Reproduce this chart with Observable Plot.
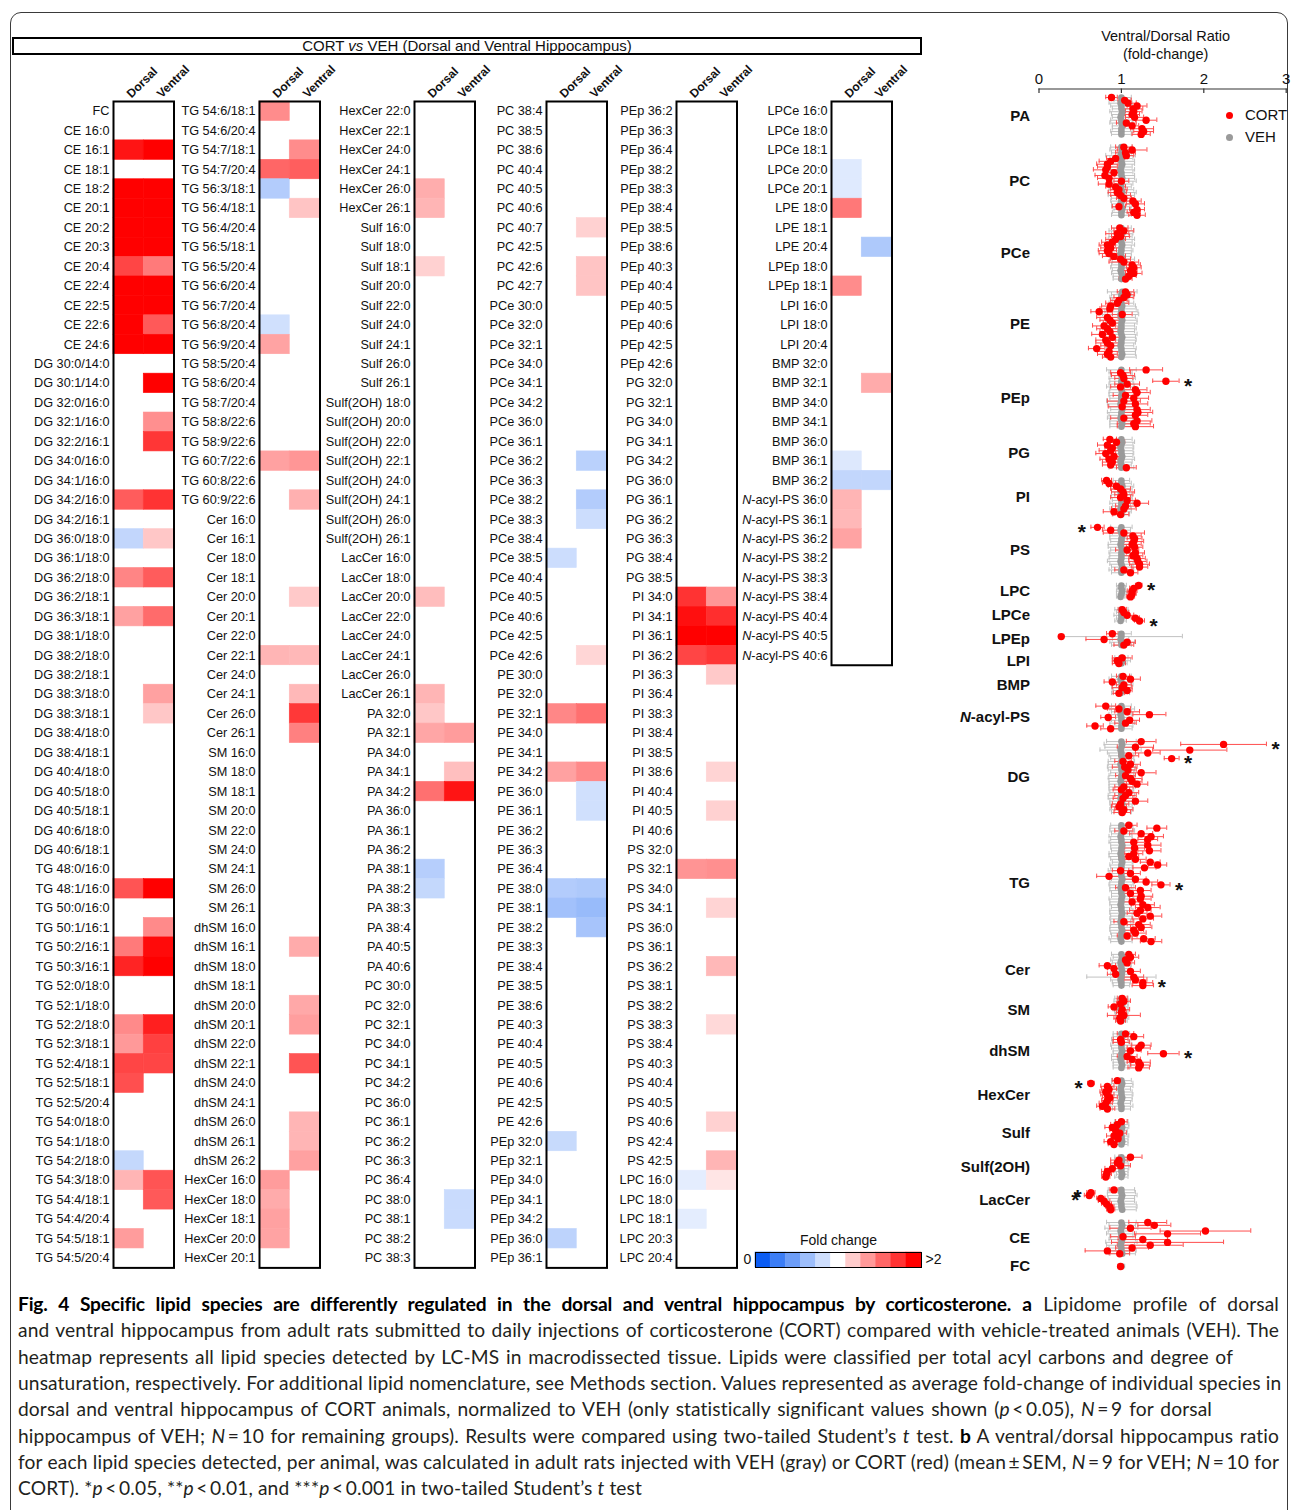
<!DOCTYPE html>
<html><head><meta charset="utf-8">
<script src="https://cdn.jsdelivr.net/npm/d3@7"></script>
<script src="https://cdn.jsdelivr.net/npm/@observablehq/plot@0.6"></script>
<style>
html,body{margin:0;padding:0;background:#fff;}
#root{position:relative;width:1292px;height:1510px;overflow:hidden;font-family:"Liberation Sans",Arial,sans-serif;color:#111;}
#frame{position:absolute;left:10px;top:12px;width:1278px;height:1560px;border:1.5px solid #3a3a3a;border-radius:11px 11px 0 0;box-sizing:border-box;}
#titlebox{position:absolute;left:12px;top:37px;width:910px;height:18px;border:2px solid #000;box-sizing:border-box;font-size:15px;line-height:14px;text-align:center;}
.cap{position:absolute;left:18px;font-family:Lato,"Noto Sans",sans-serif;font-size:19.2px;letter-spacing:0.12px;line-height:26.3px;white-space:nowrap;color:#231f20;}
.cap.j{text-align:justify;text-align-last:justify;}
.cap b{color:#000;letter-spacing:-0.2px;}
.leg{position:absolute;font-size:15px;line-height:18px;}
.leg span.d{display:inline-block;width:7px;height:7px;border-radius:50%;margin-right:12px;vertical-align:middle;position:relative;top:-1px;}
</style></head>
<body><div id="root"><div id="frame"></div><div id="titlebox">CORT <i>vs</i> VEH (Dorsal and Ventral Hippocampus)</div></div>
<script>
// ---------------- DATA: heatmap species (per class, in heatmap order) ----------------
const FC = [""];
const CE = "16:0 16:1 18:1 18:2 20:1 20:2 20:3 20:4 22:4 22:5 22:6 24:6".split(" ");
const DG = "30:0/14:0 30:1/14:0 32:0/16:0 32:1/16:0 32:2/16:1 34:0/16:0 34:1/16:0 34:2/16:0 34:2/16:1 36:0/18:0 36:1/18:0 36:2/18:0 36:2/18:1 36:3/18:1 38:1/18:0 38:2/18:0 38:2/18:1 38:3/18:0 38:3/18:1 38:4/18:0 38:4/18:1 40:4/18:0 40:5/18:0 40:5/18:1 40:6/18:0 40:6/18:1".split(" ");
const TG = "48:0/16:0 48:1/16:0 50:0/16:0 50:1/16:1 50:2/16:1 50:3/16:1 52:0/18:0 52:1/18:0 52:2/18:0 52:3/18:1 52:4/18:1 52:5/18:1 52:5/20:4 54:0/18:0 54:1/18:0 54:2/18:0 54:3/18:0 54:4/18:1 54:4/20:4 54:5/18:1 54:5/20:4 54:6/18:1 54:6/20:4 54:7/18:1 54:7/20:4 56:3/18:1 56:4/18:1 56:4/20:4 56:5/18:1 56:5/20:4 56:6/20:4 56:7/20:4 56:8/20:4 56:9/20:4 58:5/20:4 58:6/20:4 58:7/20:4 58:8/22:6 58:9/22:6 60:7/22:6 60:8/22:6 60:9/22:6".split(" ");
const Cer = "16:0 16:1 18:0 18:1 20:0 20:1 22:0 22:1 24:0 24:1 26:0 26:1".split(" ");
const SM = "16:0 18:0 18:1 20:0 22:0 24:0 24:1 26:0 26:1".split(" ");
const dhSM = "16:0 16:1 18:0 18:1 20:0 20:1 22:0 22:1 24:0 24:1 26:0 26:1 26:2".split(" ");
const HexCer = "16:0 18:0 18:1 20:0 20:1 22:0 22:1 24:0 24:1 26:0 26:1".split(" ");
const Sulf = "16:0 18:0 18:1 20:0 22:0 24:0 24:1 26:0 26:1".split(" ");
const Sulf2OH = "18:0 20:0 22:0 22:1 24:0 24:1 26:0 26:1".split(" ");
const LacCer = "16:0 18:0 20:0 22:0 24:0 24:1 26:0 26:1".split(" ");
const PA = "32:0 32:1 34:0 34:1 34:2 36:0 36:1 36:2 38:1 38:2 38:3 38:4 40:5 40:6".split(" ");
const PC = "30:0 32:0 32:1 34:0 34:1 34:2 36:0 36:1 36:2 36:3 36:4 38:0 38:1 38:2 38:3 38:4 38:5 38:6 40:4 40:5 40:6 40:7 42:5 42:6 42:7".split(" ");
const PCe = "30:0 32:0 32:1 34:0 34:1 34:2 36:0 36:1 36:2 36:3 38:2 38:3 38:4 38:5 40:4 40:5 40:6 42:5 42:6".split(" ");
const PE = "30:0 32:0 32:1 34:0 34:1 34:2 36:0 36:1 36:2 36:3 36:4 38:0 38:1 38:2 38:3 38:4 38:5 38:6 40:3 40:4 40:5 40:6 42:5 42:6".split(" ");
const PEp = "32:0 32:1 34:0 34:1 34:2 36:0 36:1 36:2 36:3 36:4 38:2 38:3 38:4 38:5 38:6 40:3 40:4 40:5 40:6 42:5 42:6".split(" ");
const PG = "32:0 32:1 34:0 34:1 34:2 36:0 36:1 36:2 36:3 38:4 38:5".split(" ");
const PI = "34:0 34:1 36:1 36:2 36:3 36:4 38:3 38:4 38:5 38:6 40:4 40:5 40:6".split(" ");
const PS = "32:0 32:1 34:0 34:1 36:0 36:1 36:2 38:1 38:2 38:3 38:4 40:3 40:4 40:5 40:6 42:4 42:5".split(" ");
const LPC = "16:0 18:0 18:1 20:3 20:4".split(" ");
const LPCe = "16:0 18:0 18:1 20:0 20:1".split(" ");
const LPE = "18:0 18:1 20:4".split(" ");
const LPEp = "18:0 18:1".split(" ");
const LPI = "16:0 18:0 20:4".split(" ");
const BMP = "32:0 32:1 34:0 34:1 36:0 36:1 36:2".split(" ");
const NacylPS = "36:0 36:1 36:2 38:2 38:3 38:4 40:4 40:5 40:6".split(" ");
const heatClasses = [["FC",FC],["CE",CE],["DG",DG],["TG",TG],["Cer",Cer],["SM",SM],["dhSM",dhSM],["HexCer",HexCer],["Sulf",Sulf],["Sulf(2OH)",Sulf2OH],["LacCer",LacCer],["PA",PA],["PC",PC],["PCe",PCe],["PE",PE],["PEp",PEp],["PG",PG],["PI",PI],["PS",PS],["LPC",LPC],["LPCe",LPCe],["LPE",LPE],["LPEp",LPEp],["LPI",LPI],["BMP",BMP],["N-acyl-PS",NacylPS]];
const regions = ["Dorsal","Ventral"];

// significant fold changes (CORT / VEH), only these are coloured
const dorsalFC = [["CE 16:1",1.92],["CE 18:2",2.4],["CE 20:1",2.3],["CE 20:2",2.5],["CE 20:3",2.2],["CE 20:4",1.73],["CE 22:4",2.4],["CE 22:5",2.3],["CE 22:6",2.2],["CE 24:6",2.3],
["DG 34:2/16:0",1.64],["DG 36:0/18:0",0.75],["DG 36:2/18:0",1.48],["DG 36:3/18:1",1.37],
["TG 48:1/16:0",1.67],["TG 50:2/16:1",1.52],["TG 50:3/16:1",1.86],["TG 52:2/18:0",1.46],["TG 52:3/18:1",1.40],["TG 52:4/18:1",1.73],["TG 52:5/18:1",1.69],["TG 54:2/18:0",0.76],["TG 54:3/18:0",1.29],["TG 54:5/18:1",1.39],
["TG 54:6/18:1",1.45],["TG 54:7/20:4",1.60],["TG 56:3/18:1",0.69],["TG 56:8/20:4",0.81],["TG 56:9/20:4",1.36],["TG 60:7/22:6",1.37],["Cer 22:1",1.29],
["HexCer 16:0",1.39],["HexCer 18:0",1.33],["HexCer 18:1",1.37],["HexCer 20:0",1.36],["HexCer 26:0",1.32],["HexCer 26:1",1.29],["Sulf 18:1",1.18],["LacCer 20:0",1.26],["LacCer 26:1",1.29],
["PA 32:0",1.22],["PA 32:1",1.35],["PA 34:2",1.56],["PA 38:1",0.70],["PA 38:2",0.76],
["PCe 38:5",0.79],["PE 32:1",1.47],["PE 34:2",1.37],["PE 38:0",0.69],["PE 38:1",0.62],["PEp 32:0",0.77],["PEp 36:0",0.73],
["PI 34:0",1.80],["PI 34:1",1.94],["PI 36:1",2.1],["PI 36:2",1.73],["PS 32:1",1.42],["LPC 16:0",0.89],["LPC 18:1",0.89],
["LPCe 20:0",0.87],["LPCe 20:1",0.87],["LPE 18:0",1.53],["LPEp 18:1",1.45],["BMP 36:1",0.86],["BMP 36:2",0.75],["N-acyl-PS 36:0",1.29],["N-acyl-PS 36:1",1.28],["N-acyl-PS 36:2",1.36]];
const ventralFC = [["CE 16:1",2.2],["CE 18:2",2.3],["CE 20:1",2.4],["CE 20:2",2.2],["CE 20:3",2.3],["CE 20:4",1.52],["CE 22:4",2.5],["CE 22:5",2.2],["CE 22:6",1.65],["CE 24:6",2.3],
["DG 30:1/14:0",2.1],["DG 32:1/16:0",1.44],["DG 32:2/16:1",1.79],["DG 34:2/16:0",1.80],["DG 36:0/18:0",1.22],["DG 36:2/18:0",1.64],["DG 36:3/18:1",1.58],["DG 38:3/18:0",1.37],["DG 38:3/18:1",1.22],
["TG 48:1/16:0",2.1],["TG 50:1/16:1",1.46],["TG 50:2/16:1",1.96],["TG 50:3/16:1",2.05],["TG 52:2/18:0",1.88],["TG 52:3/18:1",1.75],["TG 52:4/18:1",1.73],["TG 54:3/18:0",1.67],["TG 54:4/18:1",1.65],
["TG 54:7/18:1",1.45],["TG 54:7/20:4",1.63],["TG 56:4/18:1",1.23],["TG 60:7/22:6",1.41],["TG 60:9/22:6",1.31],
["Cer 20:0",1.21],["Cer 22:1",1.28],["Cer 24:1",1.28],["Cer 26:0",1.78],["Cer 26:1",1.50],
["dhSM 16:1",1.33],["dhSM 20:0",1.34],["dhSM 20:1",1.38],["dhSM 22:1",1.67],["dhSM 26:0",1.29],["dhSM 26:1",1.29],["dhSM 26:2",1.37],
["PA 32:1",1.39],["PA 34:1",1.25],["PA 34:2",1.92],["PC 38:0",0.78],["PC 38:1",0.78],
["PC 40:7",1.18],["PC 42:6",1.23],["PC 42:7",1.23],["PCe 36:2",0.72],["PCe 38:2",0.69],["PCe 38:3",0.79],["PCe 42:6",1.16],
["PE 32:1",1.56],["PE 34:2",1.46],["PE 36:0",0.81],["PE 36:1",0.81],["PE 38:0",0.67],["PE 38:1",0.58],["PE 38:2",0.64],
["PI 34:0",1.41],["PI 34:1",1.82],["PI 36:1",2.05],["PI 36:2",1.79],["PI 36:3",1.21],["PI 38:6",1.17],["PI 40:5",1.18],
["PS 32:1",1.44],["PS 34:1",1.17],["PS 36:2",1.28],["PS 38:3",1.15],["PS 40:6",1.18],["PS 42:5",1.29],["LPC 16:0",1.10],
["LPE 20:4",0.67],["BMP 32:1",1.33],["BMP 36:2",0.75]];
const legendSteps = [0, 0.2, 0.4, 0.6, 0.8, 1, 1.2, 1.4, 1.6, 1.8, 2];

// ---------------- DATA: ventral/dorsal ratio (dot plot) ----------------
const dotGroups = ["PA","PC","PCe","PE","PEp","PG","PI","PS","LPC","LPCe","LPEp","LPI","BMP","N-acyl-PS","DG","TG","Cer","SM","dhSM","HexCer","Sulf","Sulf(2OH)","LacCer","CE","FC"];
const cortMeans = [
"0.88 1.04 1.08 1.19 1.14 1.15 1.13 1.16 1.30 1.06 1.13 1.25 1.27 1.24",
"1.03 1.13 1.05 1.06 0.93 0.87 0.83 0.83 0.81 0.91 0.80 0.85 1.00 0.85 0.93 0.97 0.95 0.99 1.03 1.14 1.17 0.97 1.19 1.15 1.19",
"0.98 1.03 0.95 0.99 0.93 0.89 0.83 0.87 0.83 0.85 0.91 0.99 1.03 1.13 1.15 1.11 1.15 1.09 1.05",
"1.05 1.07 1.03 0.97 0.95 0.87 0.86 0.73 1.01 0.83 0.86 0.89 0.79 0.83 0.86 0.77 0.89 0.81 0.83 0.87 0.70 0.85 0.83 0.87",
"1.30 0.99 1.02 1.03 1.54 1.07 0.99 1.17 1.19 1.05 1.15 1.03 1.17 1.01 1.19 1.20 1.17 1.03 1.19 1.15 1.17",
"0.86 0.94 0.83 0.89 0.87 0.81 0.91 0.85 0.89 0.87 1.06",
"0.82 0.85 0.94 0.99 1.02 1.03 0.99 1.07 1.19 1.05 1.03 0.91 0.99",
"0.71 0.87 1.03 1.14 1.16 1.15 1.13 1.16 1.07 1.17 1.14 1.19 1.20 1.22 1.22 1.03 1.11",
"1.21 1.15 1.13 1.13 1.11",
"1.01 1.03 1.07 1.17 1.22",
"0.89 0.27 0.79 1.07 1.03",
"1.01 0.95 0.97",
"1.02 1.11 0.89 1.03 1.01 1.07 0.97",
"0.81 0.97 1.07 1.34 0.84 1.10 1.05 0.68 0.87",
"1.24 2.24 1.17 1.83 1.32 1.09 1.61 1.02 1.11 1.04 1.08 1.24 1.05 1.11 1.13 1.19 1.03 1.00 1.09 1.05 1.02 1.17 0.99 0.97 1.03 1.01",
"1.09 1.43 1.03 1.24 1.36 1.32 1.15 1.32 1.16 1.34 1.15 1.09 1.17 1.35 1.44 1.28 0.99 1.11 0.85 1.17 1.30 1.48 1.05 1.23 1.11 1.24 1.23 1.13 1.26 1.32 1.23 1.19 1.35 1.26 1.03 1.21 1.24 1.15 1.17 1.07 1.27 1.36",
"1.09 1.11 1.05 1.07 0.83 0.91 1.11 0.93 1.15 1.17 1.26 1.26",
"1.01 1.03 0.99 0.91 1.01 1.00 1.03 0.98 0.99",
"1.05 1.15 0.99 1.00 1.24 1.21 1.11 1.51 1.07 1.13 1.21 1.23 1.21",
"0.95 0.63 0.83 0.85 0.81 0.83 0.86 0.83 0.81 0.77 0.83",
"1.00 0.95 0.89 0.93 0.98 0.91 0.96 0.87 0.91",
"1.11 0.97 0.95 0.99 0.89 0.83 0.82 0.81",
"0.91 0.63 0.61 0.75 0.79 0.82 0.86 0.87",
"1.32 1.40 1.11 2.02 1.56 1.02 1.26 1.56 1.35 1.13 0.83 0.98",
"0.99"];
const cortSems = [
"0.07 0.08 0.10 0.12 0.12 0.10 0.09 0.11 0.13 0.12 0.08 0.14 0.12 0.11",
"0.10 0.18 0.12 0.09 0.11 0.14 0.13 0.12 0.15 0.10 0.12 0.14 0.09 0.13 0.12 0.10 0.11 0.12 0.09 0.10 0.11 0.08 0.09 0.08 0.10",
"0.10 0.12 0.14 0.11 0.12 0.13 0.10 0.12 0.11 0.12 0.14 0.12 0.18 0.10 0.09 0.08 0.10 0.09 0.08",
"0.10 0.09 0.12 0.10 0.14 0.11 0.12 0.10 0.12 0.13 0.12 0.11 0.14 0.13 0.12 0.13 0.10 0.12 0.14 0.12 0.10 0.14 0.12 0.10",
"0.20 0.12 0.14 0.11 0.16 0.15 0.12 0.14 0.16 0.15 0.18 0.20 0.15 0.17 0.16 0.18 0.15 0.16 0.18 0.20 0.22",
"0.08 0.10 0.12 0.09 0.14 0.12 0.10 0.11 0.12 0.10 0.12",
"0.06 0.08 0.10 0.12 0.14 0.11 0.12 0.10 0.14 0.12 0.15 0.13 0.10",
"0.08 0.10 0.25 0.10 0.09 0.12 0.11 0.10 0.14 0.11 0.12 0.10 0.11 0.12 0.10 0.11 0.09",
"0.04 0.05 0.06 0.05 0.05",
"0.05 0.06 0.08 0.05 0.06",
"0.07 0.03 0.22 0.10 0.12",
"0.12 0.06 0.08",
"0.08 0.12 0.10 0.09 0.12 0.06 0.07",
"0.12 0.14 0.15 0.20 0.09 0.12 0.13 0.10 0.12",
"0.18 0.52 0.22 0.45 0.15 0.12 0.09 0.10 0.12 0.15 0.10 0.18 0.12 0.14 0.12 0.13 0.11 0.10 0.12 0.13 0.12 0.15 0.10 0.09 0.11 0.10",
"0.10 0.12 0.11 0.14 0.15 0.12 0.13 0.16 0.12 0.14 0.11 0.12 0.13 0.12 0.11 0.14 0.10 0.12 0.15 0.13 0.14 0.11 0.12 0.13 0.12 0.14 0.13 0.12 0.14 0.15 0.13 0.12 0.14 0.13 0.12 0.14 0.13 0.12 0.13 0.12 0.14 0.13",
"0.08 0.10 0.07 0.09 0.10 0.08 0.12 0.10 0.12 0.14 0.12 0.13",
"0.06 0.08 0.05 0.07 0.09 0.06 0.20 0.07 0.06",
"0.10 0.12 0.09 0.10 0.12 0.14 0.13 0.19 0.12 0.10 0.14 0.12 0.13",
"0.06 0.04 0.08 0.09 0.07 0.08 0.09 0.07 0.08 0.07 0.09",
"0.07 0.08 0.09 0.07 0.08 0.09 0.07 0.08 0.07",
"0.14 0.10 0.08 0.12 0.09 0.07 0.06 0.05",
"0.05 0.05 0.06 0.05 0.07 0.06 0.05 0.05",
"0.23 0.20 0.25 0.55 0.40 0.15 0.30 0.68 0.40 0.20 0.27 0.12",
"0.03"];
const vehMeans = [
"1.00 1.01 0.99 1.00 1.00 1.01 1.00 0.99 1.00 1.00 1.01 1.00 1.00 1.00",
"1.00 1.01 1.00 0.99 1.00 1.00 1.01 1.00 0.99 1.00 1.00 1.01 1.00 1.00 0.99 1.00 1.01 1.00 1.00 1.00 0.99 1.00 1.01 1.00 1.00",
"1.00 1.00 1.01 0.99 1.00 1.00 1.01 1.00 1.00 0.99 1.00 1.01 1.00 1.00 1.00 0.99 1.00 1.01 1.00",
"1.01 1.00 1.00 0.99 1.00 1.01 1.00 1.00 0.99 1.00 1.01 1.00 1.00 1.00 0.99 1.00 1.01 1.00 1.00 0.99 1.00 1.00 1.01 1.00",
"1.00 0.99 1.00 1.01 1.00 1.00 0.99 1.00 1.01 1.00 1.00 1.00 0.99 1.00 1.01 1.00 1.00 0.99 1.00 1.01 1.00",
"1.00 1.01 1.00 0.99 1.00 1.00 1.01 1.00 0.99 1.00 1.00",
"1.00 1.00 1.01 1.00 0.99 1.00 1.00 1.01 1.00 1.00 0.99 1.00 1.00",
"1.00 0.99 1.00 1.01 1.00 1.00 0.99 1.00 1.01 1.00 1.00 1.00 0.99 1.00 1.01 1.00 1.00",
"1.00 1.00 1.01 1.00 0.99",
"1.00 1.01 1.00 1.00 0.99",
"1.00 1.00 0.99 1.01 1.00",
"1.00 1.01 1.00",
"1.00 0.99 1.00 1.01 1.00 1.00 0.99",
"1.00 1.01 1.00 0.99 1.00 1.00 1.01 1.00 1.00",
"1.00 1.01 1.00 0.99 1.00 1.00 1.01 1.00 0.99 1.00 1.00 1.01 1.00 1.00 0.99 1.00 1.01 1.00 1.00 1.00 0.99 1.00 1.01 1.00 1.00 1.00",
"1.00 1.00 1.01 1.00 0.99 1.00 1.00 1.01 1.00 1.00 0.99 1.00 1.00 1.01 1.00 1.00 0.99 1.00 1.00 1.01 1.00 1.00 0.99 1.00 1.00 1.01 1.00 1.00 0.99 1.00 1.00 1.01 1.00 1.00 0.99 1.00 1.00 1.01 1.00 1.00 0.99 1.00",
"1.00 1.01 1.00 0.99 1.00 1.00 1.01 1.00 1.00 0.99 1.00 1.00",
"1.00 1.00 1.01 1.00 0.99 1.00 1.00 1.01 1.00",
"1.00 1.01 1.00 0.99 1.00 1.00 1.01 1.00 1.00 0.99 1.00 1.01 1.00",
"1.00 1.01 1.00 0.99 1.00 1.00 1.01 1.00 0.99 1.00 1.00",
"1.00 1.00 1.01 1.00 0.99 1.00 1.00 1.01 1.00",
"1.00 1.01 1.00 0.99 1.00 1.00 1.01 1.00",
"1.00 1.00 1.01 1.00 0.99 1.00 1.00 1.01",
"1.00 1.01 1.00 0.99 1.00 1.00 1.01 1.00 0.99 1.00 1.00 1.01",
"1.00"];
const vehSems = [
"0.12 0.10 0.14 0.13 0.11 0.15 0.12 0.10 0.13 0.14 0.12 0.11 0.13 0.12",
"0.13 0.15 0.12 0.18 0.14 0.16 0.15 0.13 0.17 0.14 0.16 0.15 0.18 0.14 0.13 0.15 0.17 0.16 0.12 0.13 0.11 0.12 0.10 0.11 0.12",
"0.12 0.15 0.13 0.14 0.16 0.13 0.15 0.12 0.14 0.13 0.12 0.15 0.11 0.12 0.13 0.10 0.12 0.11 0.10",
"0.18 0.12 0.14 0.10 0.15 0.16 0.18 0.20 0.22 0.17 0.18 0.19 0.16 0.18 0.17 0.19 0.16 0.18 0.17 0.16 0.18 0.17 0.16 0.18",
"0.18 0.14 0.13 0.16 0.14 0.15 0.17 0.14 0.16 0.15 0.14 0.18 0.16 0.15 0.14 0.17 0.15 0.16 0.14 0.15 0.14",
"0.13 0.15 0.14 0.16 0.14 0.15 0.13 0.16 0.14 0.12 0.15",
"0.10 0.12 0.14 0.13 0.11 0.12 0.13 0.12 0.14 0.11 0.13 0.12 0.10",
"0.13 0.12 0.11 0.15 0.14 0.13 0.15 0.16 0.14 0.15 0.14 0.15 0.16 0.14 0.13 0.15 0.12",
"0.06 0.05 0.07 0.06 0.05",
"0.08 0.07 0.09 0.06 0.07",
"0.12 0.74 0.10 0.15 0.12",
"0.08 0.10 0.07",
"0.12 0.14 0.11 0.13 0.12 0.10 0.11",
"0.12 0.15 0.12 0.14 0.13 0.12 0.15 0.14 0.13",
"0.18 0.22 0.20 0.25 0.17 0.15 0.14 0.16 0.15 0.17 0.16 0.14 0.15 0.16 0.14 0.15 0.16 0.15 0.14 0.16 0.15 0.14 0.15 0.13 0.14 0.12",
"0.13 0.14 0.15 0.12 0.14 0.13 0.15 0.14 0.13 0.12 0.14 0.15 0.13 0.12 0.14 0.13 0.15 0.14 0.12 0.13 0.14 0.15 0.13 0.14 0.12 0.13 0.15 0.14 0.13 0.12 0.14 0.15 0.13 0.14 0.12 0.13 0.14 0.15 0.13 0.12 0.14 0.13",
"0.12 0.11 0.13 0.10 0.12 0.11 0.12 0.13 0.42 0.12 0.11 0.10",
"0.08 0.09 0.07 0.08 0.09 0.08 0.07 0.08 0.07",
"0.10 0.11 0.12 0.10 0.13 0.12 0.11 0.10 0.12 0.11 0.10 0.11 0.10",
"0.12 0.13 0.14 0.12 0.13 0.14 0.12 0.13 0.12 0.14 0.11",
"0.08 0.09 0.08 0.07 0.08 0.09 0.08 0.07 0.08",
"0.08 0.09 0.08 0.10 0.09 0.08 0.07 0.08",
"0.16 0.17 0.18 0.16 0.17 0.18 0.19 0.17",
"0.18 0.16 0.20 0.15 0.18 0.14 0.16 0.19 0.17 0.15 0.18 0.16",
"0.04"];
const starMarks = [["PEp",4],["PS",0],["LPC",0],["LPCe",4],["DG",1],["DG",6],["TG",21],["Cer",10],["dhSM",7],["HexCer",1],["LacCer",1],["LacCer",2]];
const ratioTicks = [0, 1, 2, 3];

const captionLines = [
'<b>Fig. 4 Specific lipid species are differently regulated in the dorsal and ventral hippocampus by corticosterone.</b> <b>a</b> Lipidome profile of dorsal',
'and ventral hippocampus from adult rats submitted to daily injections of corticosterone (CORT) compared with vehicle-treated animals (VEH). The',
'heatmap represents all lipid species detected by LC-MS in macrodissected tissue. Lipids were classified per total acyl carbons and degree of',
'unsaturation, respectively. For additional lipid nomenclature, see Methods section. Values represented as average fold-change of individual species in',
'dorsal and ventral hippocampus of CORT animals, normalized to VEH (only statistically significant values shown (<i>p</i>\u2009&lt;\u20090.05), <i>N</i>\u2009=\u20099 for dorsal',
'hippocampus of VEH; <i>N</i>\u2009=\u200910 for remaining groups). Results were compared using two-tailed Student\u2019s <i>t</i> test. <b>b</b> A ventral/dorsal hippocampus ratio',
'for each lipid species detected, per animal, was calculated in adult rats injected with VEH (gray) or CORT (red) (mean\u2009\u00b1\u2009SEM, <i>N</i>\u2009=\u20099 for VEH; <i>N</i>\u2009=\u200910 for',
'CORT). *<i>p</i>\u2009&lt;\u20090.05, **<i>p</i>\u2009&lt;\u20090.01, and ***<i>p</i>\u2009&lt;\u20090.001 in two-tailed Student\u2019s <i>t</i> test'];
const captionRight = [1279, 1279, 1233, 1279, 1212, 1279, 1279, null];

// ---------------- DRAWING ----------------
const root = document.getElementById("root");
function place(el, left, top) { el.style.position = "absolute"; el.style.left = left + "px"; el.style.top = top + "px"; root.appendChild(el); return el; }
function italicN(svg) {
  d3.select(svg).selectAll("text").each(function () {
    const t = this.textContent;
    if (t.startsWith("N-acyl")) {
      this.textContent = "";
      d3.select(this).append("tspan").attr("font-style", "italic").text("N");
      d3.select(this).append("tspan").text(t.slice(1));
    }
  });
}
const nums = s => s.trim().split(/\s+/).map(Number);
const baseStyle = {background: "transparent", overflow: "visible", fontFamily: "'Liberation Sans', Arial, sans-serif", color: "#111"};
const colorScale = {type: "linear", domain: [0, 1, 2], range: ["#0a5cf4", "#ffffff", "#ff0000"], interpolate: "rgb", clamp: true};

// heatmap
const heatSpecies = heatClasses.flatMap(([c, arr]) => arr.map(a => a ? c + " " + a : c));
const cellData = [...dorsalFC.map(([name, v]) => ({name, region: "Dorsal", v})), ...ventralFC.map(([name, v]) => ({name, region: "Ventral", v}))];
const ROWH = 19.44, BOXW = 60.5, MLH = 118, MTH = 46;
const colLefts = [112.5, 259, 414, 545.5, 676, 831];
const colTop = 100.7;
for (let c = 0; c < 6; c++) {
  const names = heatSpecies.slice(c * 60, c * 60 + 60);
  const set = new Set(names);
  const cells = cellData.filter(d => set.has(d.name));
  const svg = Plot.plot({
    width: MLH + BOXW + 6, height: MTH + names.length * ROWH + 4,
    marginLeft: MLH, marginRight: 6, marginTop: MTH, marginBottom: 4,
    x: {domain: regions, padding: 0, round: false, axis: null},
    y: {domain: names, padding: 0, round: false},
    color: colorScale,
    style: {...baseStyle, fontSize: "12.7px"},
    marks: [
      Plot.cell(cells, {x: "region", y: "name", fill: "v", stroke: "v", strokeWidth: 0.6, inset: 0}),
      Plot.axisY({tickSize: 0, tickPadding: 4, label: null}),
      Plot.text(regions, {x: d => d, text: d => d, frameAnchor: "top", rotate: -45, textAnchor: "start", lineAnchor: "bottom", dy: -3, dx: 3, fontWeight: "bold", fontSize: 12}),
      Plot.frame({stroke: "#000", strokeWidth: 2})
    ]
  });
  italicN(svg);
  place(svg, colLefts[c] - MLH, colTop - MTH);
}

// fold change legend
const legSvg = Plot.plot({
  width: 230, height: 50, marginLeft: 25, marginRight: 39, marginTop: 29, marginBottom: 6,
  x: {domain: legendSteps, padding: 0, round: false, axis: null},
  color: colorScale,
  style: {...baseStyle, fontSize: "14px"},
  marks: [
    Plot.cell(legendSteps, {x: d => d, fill: d => d, stroke: d => d, strokeWidth: 0.5}),
    Plot.frame({stroke: "#000", strokeWidth: 1}),
    Plot.text(["Fold change"], {text: d => d, frameAnchor: "top", lineAnchor: "middle", dy: -12, fontSize: 14}),
    Plot.text(["0"], {text: d => d, frameAnchor: "left", textAnchor: "middle", dx: -8, fontSize: 14}),
    Plot.text([">2"], {text: d => d, frameAnchor: "right", textAnchor: "middle", dx: 12, fontSize: 14})
  ]
});
place(legSvg, 730, 1223);

// dot plot
const GAP = 3.5;
const dotRows = [], groupLabels = [];
let s = 0;
dotGroups.forEach((g, gi) => {
  if (gi > 0) s += GAP;
  const cm = nums(cortMeans[gi]), cs = nums(cortSems[gi]), vm = nums(vehMeans[gi]), vs = nums(vehSems[gi]);
  const start = s;
  cm.forEach((m, i) => { dotRows.push({group: g, i, slot: s, cm: m, cs: cs[i], vm: vm[i], vs: vs[i]}); s += 1; });
  groupLabels.push({label: g, slot: (start + s - 1) / 2});
});
const maxSlot = s - 1;
const starRows = starMarks.map(([g, i]) => dotRows.find(d => d.group === g && d.i === i));
const capsV = dotRows.flatMap(d => [{x: d.vm - d.vs, slot: d.slot}, {x: d.vm + d.vs, slot: d.slot}]);
const capsC = dotRows.flatMap(d => [{x: d.cm - d.cs, slot: d.slot}, {x: d.cm + d.cs, slot: d.slot}]);
const DW = 342, DH = 1260, DML = 88.5, DMR = 342 - 88.5 - 247.2, DMT = 68.5, DMB = 14;
const dotSvg = Plot.plot({
  width: DW, height: DH, marginLeft: DML, marginRight: DMR, marginTop: DMT, marginBottom: DMB,
  x: {domain: [0, 3]},
  y: {domain: [0, maxSlot], reverse: true, insetTop: 8.5, axis: null},
  style: {...baseStyle, fontSize: "15px"},
  marks: [
    Plot.frame({anchor: "top", stroke: "#333", strokeWidth: 1.2}),
    Plot.tickX(ratioTicks, {x: d => d, insetBottom: DH - DMT - DMB - 4.5, stroke: "#333", strokeWidth: 1.2}),
    Plot.axisX({anchor: "top", ticks: ratioTicks, tickFormat: d3.format("d"), tickSize: 0, tickPadding: 5, label: null, fontSize: 15}),
    Plot.text(["Ventral/Dorsal Ratio\n(fold-change)"], {text: d => d, frameAnchor: "top", lineAnchor: "middle", dy: -44.5, dx: 3, fontSize: 14.5, lineHeight: 1.25}),
    Plot.ruleY(dotRows, {y: "slot", x1: d => d.vm - d.vs, x2: d => d.vm + d.vs, stroke: "#c2c2c2", strokeWidth: 1}),
    Plot.ruleX(capsV, {x: "x", y1: d => d.slot - 0.8, y2: d => d.slot + 0.8, stroke: "#c2c2c2", strokeWidth: 1}),
    Plot.ruleY(dotRows, {y: "slot", x1: d => d.cm - d.cs, x2: d => d.cm + d.cs, stroke: "#ff4d4d", strokeWidth: 1}),
    Plot.ruleX(capsC, {x: "x", y1: d => d.slot - 0.8, y2: d => d.slot + 0.8, stroke: "#ff4d4d", strokeWidth: 1}),
    Plot.dot(dotRows, {x: "vm", y: "slot", r: 3.3, fill: "#9a9a9a"}),
    Plot.dot(dotRows, {x: "cm", y: "slot", r: 3.7, fill: "#ff0000"}),
    Plot.text(starRows.filter(d => d.cm >= 1), {x: d => d.cm + d.cs, y: "slot", text: () => "*", textAnchor: "start", dx: 5, dy: 5, fontSize: 21, fontWeight: "bold"}),
    Plot.text(starRows.filter(d => d.cm < 1), {x: d => d.cm - d.cs, y: "slot", text: () => "*", textAnchor: "end", dx: -5, dy: 5, fontSize: 21, fontWeight: "bold"}),
    Plot.text(groupLabels, {y: "slot", text: "label", frameAnchor: "left", textAnchor: "end", dx: -9, fontWeight: "bold", fontSize: 15})
  ]
});
italicN(dotSvg);
place(dotSvg, 950, 20);

// CORT / VEH legend
const leg = document.createElement("div");
leg.className = "leg";
leg.innerHTML = '<div style="margin-bottom:4px"><span class="d" style="background:#ff0000"></span>CORT</div><div><span class="d" style="background:#9a9a9a"></span>VEH</div>';
place(leg, 1226, 106);

// caption
captionLines.forEach((html, i) => {
  const d = document.createElement("div");
  d.className = "cap" + (captionRight[i] ? " j" : "");
  if (captionRight[i]) d.style.width = (captionRight[i] - 18) + "px";
  d.innerHTML = html;
  place(d, 18, 1291 + i * 26.3);
});
</script></body></html>
